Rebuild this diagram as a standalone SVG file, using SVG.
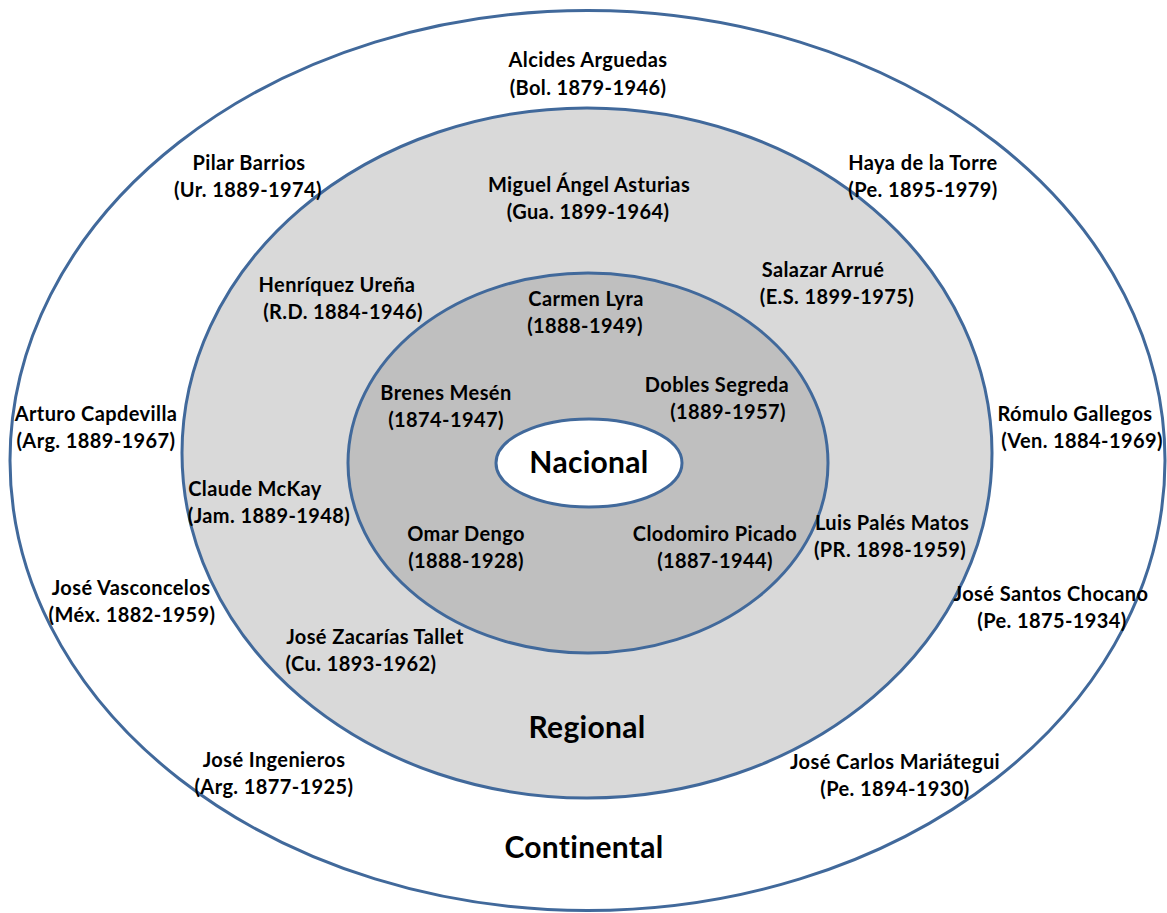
<svg xmlns="http://www.w3.org/2000/svg" width="1167" height="913" viewBox="0 0 1167 913">
  <style>
    .ring { stroke: #41699b; stroke-width: 3; }
    .lbl { font-family: Lato, "Open Sans", "Liberation Sans", sans-serif; font-weight: 700; font-size: 20px; letter-spacing: 0.4px; fill: #000; text-anchor: middle; }
    .big { font-family: Lato, "Open Sans", "Liberation Sans", sans-serif; font-weight: 700; font-size: 30px; letter-spacing: 0.3px; fill: #000; text-anchor: middle; }
  </style>
  <rect width="1167" height="913" fill="#ffffff"/>

  <!-- Concentric rings -->
  <g id="continental">
    <ellipse class="ring" cx="587.5" cy="460.5" rx="577.5" ry="450" fill="#ffffff"/>
  </g>
  <g id="regional">
    <ellipse class="ring" cx="587" cy="453" rx="405" ry="345" fill="#d9d9d9"/>
  </g>
  <g id="inner">
    <ellipse class="ring" cx="588" cy="463" rx="240" ry="190" fill="#bfbfbf"/>
  </g>
  <g id="nacional">
    <ellipse class="ring" cx="589" cy="463" rx="93" ry="44" fill="#ffffff"/>
    <text class="big" x="589" y="473">Nacional</text>
  </g>

  <!-- Ring titles -->
  <g id="regional-title"><text class="big" x="587" y="738">Regional</text></g>
  <g id="continental-title"><text class="big" x="584" y="858">Continental</text></g>

  <!-- Continental ring names -->
  <g id="arguedas">
    <text class="lbl" x="588" y="67">Alcides Arguedas</text>
    <text class="lbl" x="588" y="95">(Bol. 1879-1946)</text>
  </g>
  <g id="barrios">
    <text class="lbl" x="249" y="170">Pilar Barrios</text>
    <text class="lbl" x="248" y="197">(Ur. 1889-1974)</text>
  </g>
  <g id="haya">
    <text class="lbl" x="923" y="170">Haya de la Torre</text>
    <text class="lbl" x="923" y="197">(Pe. 1895-1979)</text>
  </g>
  <g id="capdevilla">
    <text class="lbl" x="96" y="421">Arturo Capdevilla</text>
    <text class="lbl" x="96" y="448">(Arg. 1889-1967)</text>
  </g>
  <g id="gallegos">
    <text class="lbl" x="1075" y="421">Rómulo Gallegos</text>
    <text class="lbl" x="1082" y="448">(Ven. 1884-1969)</text>
  </g>
  <g id="vasconcelos">
    <text class="lbl" x="131" y="595">José Vasconcelos</text>
    <text class="lbl" x="132" y="622">(Méx. 1882-1959)</text>
  </g>
  <g id="chocano">
    <text class="lbl" x="1051" y="601">José Santos Chocano</text>
    <text class="lbl" x="1052" y="628">(Pe. 1875-1934)</text>
  </g>
  <g id="ingenieros">
    <text class="lbl" x="274" y="767">José Ingenieros</text>
    <text class="lbl" x="274" y="794">(Arg. 1877-1925)</text>
  </g>
  <g id="mariategui">
    <text class="lbl" x="895" y="769">José Carlos Mariátegui</text>
    <text class="lbl" x="895" y="796">(Pe. 1894-1930)</text>
  </g>

  <!-- Regional ring names -->
  <g id="asturias">
    <text class="lbl" x="589" y="192">Miguel Ángel Asturias</text>
    <text class="lbl" x="588" y="219">(Gua. 1899-1964)</text>
  </g>
  <g id="urena">
    <text class="lbl" x="337" y="292">Henríquez Ureña</text>
    <text class="lbl" x="343" y="319">(R.D. 1884-1946)</text>
  </g>
  <g id="salazar">
    <text class="lbl" x="823" y="277">Salazar Arrué</text>
    <text class="lbl" x="837" y="304">(E.S. 1899-1975)</text>
  </g>
  <g id="mckay">
    <text class="lbl" x="255" y="496">Claude McKay</text>
    <text class="lbl" x="269" y="523">(Jam. 1889-1948)</text>
  </g>
  <g id="pales">
    <text class="lbl" x="892" y="530">Luis Palés Matos</text>
    <text class="lbl" x="890" y="557">(PR. 1898-1959)</text>
  </g>
  <g id="tallet">
    <text class="lbl" x="375" y="644">José Zacarías Tallet</text>
    <text class="lbl" x="361" y="671">(Cu. 1893-1962)</text>
  </g>

  <!-- National ring names -->
  <g id="lyra">
    <text class="lbl" x="586" y="306">Carmen Lyra</text>
    <text class="lbl" x="585" y="333">(1888-1949)</text>
  </g>
  <g id="brenes">
    <text class="lbl" x="446" y="400">Brenes Mesén</text>
    <text class="lbl" x="446" y="427">(1874-1947)</text>
  </g>
  <g id="dobles">
    <text class="lbl" x="717" y="392">Dobles Segreda</text>
    <text class="lbl" x="728" y="419">(1889-1957)</text>
  </g>
  <g id="dengo">
    <text class="lbl" x="466" y="541">Omar Dengo</text>
    <text class="lbl" x="466" y="568">(1888-1928)</text>
  </g>
  <g id="picado">
    <text class="lbl" x="715" y="541">Clodomiro Picado</text>
    <text class="lbl" x="715" y="568">(1887-1944)</text>
  </g>
</svg>
